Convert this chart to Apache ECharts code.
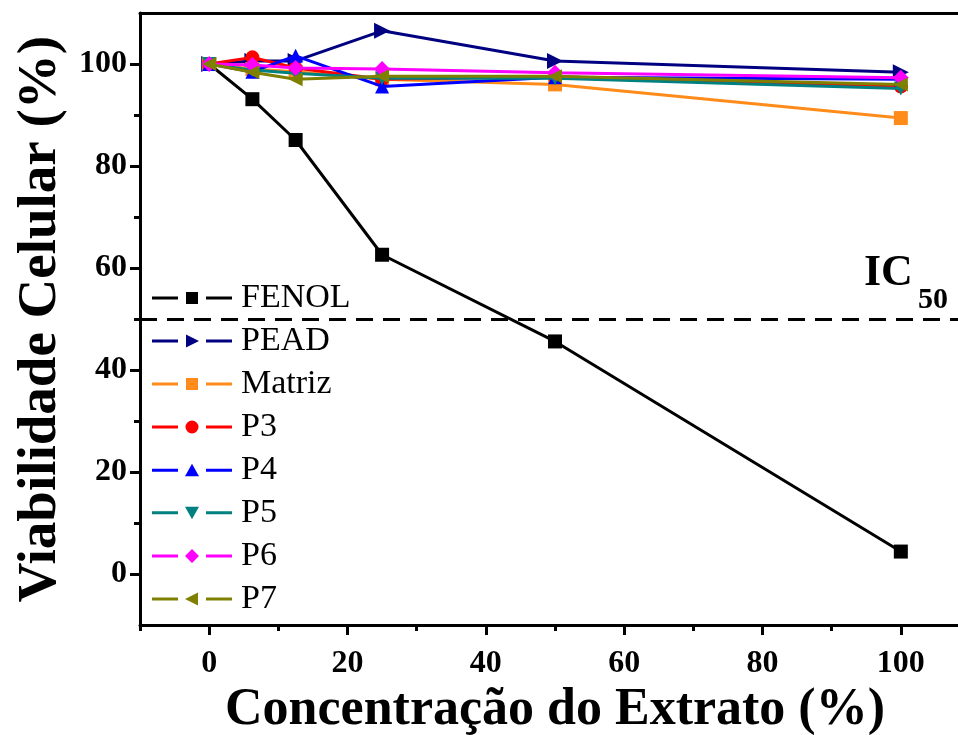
<!DOCTYPE html>
<html>
<head>
<meta charset="utf-8">
<script src="https://cdn.jsdelivr.net/npm/echarts@6/dist/echarts.min.js"></script>
<style>
html,body{margin:0;padding:0;background:#fff;}
#chart{width:958px;height:735px;}
</style>
</head>
<body>
<div id="chart"></div>
<script>
// Data
const concentrations = [0, 6.25, 12.5, 25, 50, 100];
const seriesNames = ['FENOL', 'PEAD', 'Matriz', 'P3', 'P4', 'P5', 'P6', 'P7'];
const fenol  = [100, 93.1, 85.1, 62.6, 45.6, 4.4];
const pead   = [100, 100.6, 100.6, 106.5, 100.6, 98.4];
const matriz = [100, 99.0, 98.5, 97.0, 96.0, 89.4];
const p3     = [100, 101.3, 99.2, 97.0, 97.5, 95.6];
const p4     = [100, 98.5, 101.6, 95.6, 97.4, 97.0];
const p5     = [100, 98.8, 98.2, 97.2, 97.2, 95.2];
const p6     = [100, 99.8, 99.2, 99.0, 98.3, 97.3];
const p7     = [100, 98.4, 97.0, 97.6, 97.6, 96.0];
const xMajorTicks = [0, 20, 40, 60, 80, 100];
const xMinorTicks = [-10, 10, 30, 50, 70, 90, 110];
const yMajorTicks = [0, 20, 40, 60, 80, 100];
const yMinorTicks = [10, 30, 50, 70, 90];
const ic50Level = 50;

const allValues = [fenol, pead, matriz, p3, p4, p5, p6, p7];
const colors = ['#000000', '#000080', '#FF8C1A', '#FF0000', '#0000FF', '#008080', '#FF00FF', '#808000'];
const symbols = ['rect', 'triangle', 'rect', 'circle', 'triangle', 'triangle', 'diamond', 'triangle'];
const rotations = [0, -90, 0, 0, 0, 180, 0, 90];

// legend icons: "— marker —" drawn as one path (80 x 14 box)
const legLines = 'M0 5.5H26V8.5H0Z M54 5.5H80V8.5H54Z ';
const legMarkers = [
  'M34 1H46V13H34Z',
  'M34 0.5L47 7L34 13.5Z',
  'M34 1H46V13H34Z',
  'M46.5 7A6.5 6.5 0 1 1 33.5 7A6.5 6.5 0 1 1 46.5 7Z',
  'M40 0.5L47 13L33 13Z',
  'M33 1L47 1L40 13.5Z',
  'M40 0L47 7L40 14L33 7Z',
  'M46 0.5L33 7L46 13.5Z'
];

const serif = "'Liberation Serif', 'Times New Roman', serif";

const series = seriesNames.map((name, i) => ({
  name: name,
  type: 'line',
  xAxisIndex: 0,
  yAxisIndex: 0,
  data: concentrations.map((x, j) => [x, allValues[i][j]]),
  symbol: symbols[i],
  symbolRotate: rotations[i],
  symbolSize: symbols[i] === 'diamond' ? 16 : (i === 1 ? 16 : 14),
  showAllSymbol: true,
  lineStyle: { color: colors[i], width: 3 },
  itemStyle: { color: colors[i], borderWidth: 0 },
  z: 3 + i
}));

series[0].markLine = {
  silent: true,
  symbol: ['none', 'none'],
  label: { show: false },
  lineStyle: { color: '#000', width: 3, type: [17, 10] },
  data: [{ yAxis: ic50Level }]
};

const chart = echarts.init(document.getElementById('chart'));
chart.setOption({
  animation: false,
  backgroundColor: '#fff',
  grid: {
    left: 140, top: 13, right: -12, bottom: 110,
    outerBoundsMode: 'none',
    containLabel: false,
    show: false
  },
  legend: {
    orient: 'vertical',
    left: 152,
    top: 281,
    itemWidth: 80,
    itemHeight: 14,
    itemGap: 9,
    symbolRotate: 0,
    data: seriesNames.map((n, i) => ({ name: n, icon: 'path://' + legLines + legMarkers[i] })),
    textStyle: { fontFamily: serif, fontSize: 34, color: '#000', lineHeight: 34, padding: [0, 0, 0, 4] },
    padding: 0
  },
  xAxis: [
    {
      type: 'value', min: -10, max: 110,
      name: 'Concentração do Extrato (%)',
      nameLocation: 'middle', nameGap: 24,
      nameTextStyle: { fontFamily: serif, fontWeight: 'bold', fontSize: 52, color: '#000' },
      axisLine: { show: true, onZero: false, lineStyle: { color: '#000', width: 3 } },
      axisTick: { show: true, inside: false, length: 10, lineStyle: { width: 3, color: '#000' }, customValues: xMajorTicks },
      axisLabel: { customValues: xMajorTicks, margin: 23, fontFamily: serif, fontWeight: 'bold', fontSize: 32, color: '#000' },
      splitLine: { show: false }
    },
    {
      type: 'value', min: -10, max: 110, position: 'bottom',
      axisLine: { show: false, onZero: false },
      axisTick: { show: true, length: 6, lineStyle: { width: 3, color: '#000' }, customValues: xMinorTicks },
      axisLabel: { show: false },
      splitLine: { show: false }
    },
    {
      type: 'value', min: -10, max: 110, position: 'top',
      axisLine: { show: true, onZero: false, lineStyle: { color: '#000', width: 3 } },
      axisTick: { show: false },
      axisLabel: { show: false },
      splitLine: { show: false }
    }
  ],
  yAxis: [
    {
      type: 'value', min: -10, max: 110,
      name: 'Viabilidade Celular (%)',
      nameLocation: 'middle', nameGap: 72,
      nameTextStyle: { fontFamily: serif, fontWeight: 'bold', fontSize: 55, color: '#000' },
      axisLine: { show: true, onZero: false, lineStyle: { color: '#000', width: 3 } },
      axisTick: { show: true, length: 10, lineStyle: { width: 3, color: '#000' }, customValues: yMajorTicks },
      axisLabel: { customValues: yMajorTicks, margin: 13, fontFamily: serif, fontWeight: 'bold', fontSize: 32, color: '#000' },
      splitLine: { show: false }
    },
    {
      type: 'value', min: -10, max: 110, position: 'left',
      axisLine: { show: false, onZero: false },
      axisTick: { show: true, length: 6, lineStyle: { width: 3, color: '#000' }, customValues: yMinorTicks },
      axisLabel: { show: false },
      splitLine: { show: false }
    }
  ],
  graphic: [
    { type: 'text', left: 864, top: 252, style: { text: 'IC', fontFamily: serif, fontWeight: 'bold', fontSize: 44, fill: '#000' } },
    { type: 'text', left: 918, top: 285, style: { text: '50', fontFamily: serif, fontWeight: 'bold', fontSize: 30, fill: '#000' } }
  ],
  series: series
});
</script>
</body>
</html>
